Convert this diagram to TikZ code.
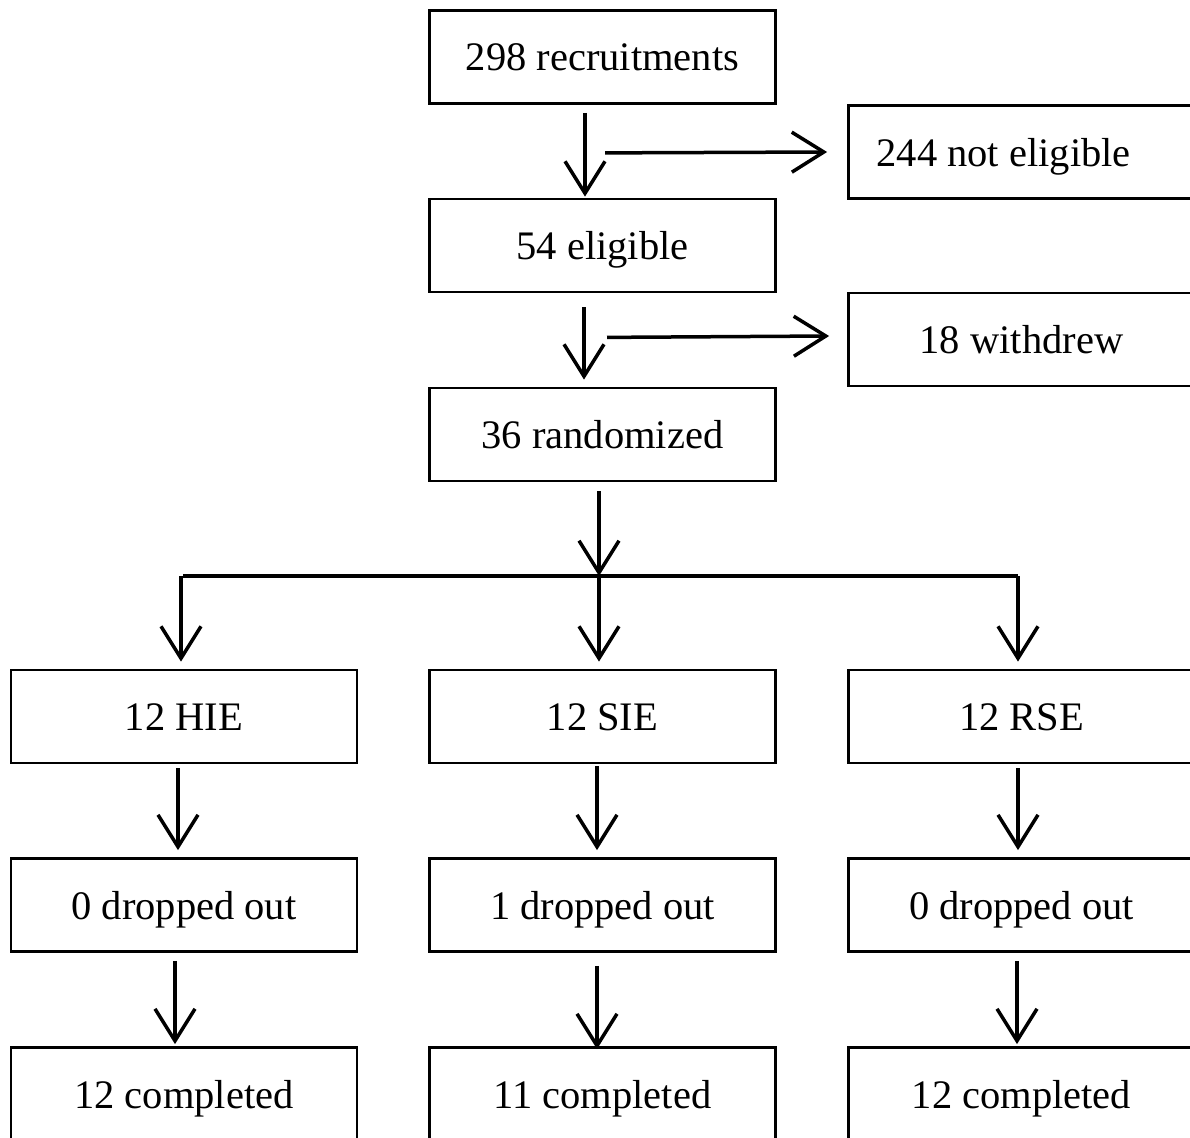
\documentclass[tikz,border=0pt]{standalone}
\usepackage{fontspec}
\setmainfont{Liberation Serif}
\usetikzlibrary{arrows.meta,calc}
\begin{document}
\begin{tikzpicture}[x=1pt,y=-1pt,
  box/.style={draw, line width=2.8pt, minimum width=346pt, minimum height=93pt, inner sep=0pt,
    text height=31pt, text depth=3pt,
    font=\fontsize{40.5}{48}\selectfont},
  arr/.style={line width=3.5pt, -{Straight Barb[length=32pt,width=40pt]}},
  ln/.style={line width=3.2pt}]
\useasboundingbox (0,0) rectangle (1190,1137);
\clip (0,0) rectangle (1190,1137);
\fill[white] (0,0) rectangle (1190,1137);
\node[box] (rec) at (602.5,57) {298 recruitments};
\node[box] (ne) at (1021.5,152) {\makebox[290pt][l]{244 not eligible}};
\node[box] (elig) at (602.5,245.5) {54 eligible};
\node[box] (wd) at (1021.5,339.5) {18 withdrew};
\node[box] (rand) at (602.5,434.5) {36 randomized};
\node[box] (hie) at (184,716.5) {12 HIE};
\node[box] (sie) at (602.5,716.5) {12 SIE};
\node[box] (rse) at (1021.5,716.5) {12 RSE};
\node[box] (d1) at (184,905) {0 dropped out};
\node[box] (d2) at (602.5,905) {1 dropped out};
\node[box] (d3) at (1021.5,905) {0 dropped out};
\node[box] (c1) at (184,1094) {12 completed};
\node[box] (c2) at (602.5,1094) {11 completed};
\node[box] (c3) at (1021.5,1094) {12 completed};
% top arrows
\draw[arr] ($(rec.south)+(-17.5,8)$) -- ($(elig.north)+(-17.5,-1)$);
\draw[arr] ($(rec.south)+(2.5,48)$) -- ($(ne.west)+(-20,0)$);
\draw[arr] ($(elig.south)+(-18.5,14)$) -- ($(rand.north)+(-18.5,-7)$);
\draw[arr] ($(elig.south)+(4.5,44)$) -- ($(wd.west)+(-18,-3.5)$);
% randomization split
\coordinate (split) at (599,576);
\draw[arr] ($(rand.south)+(-3.5,9)$) -- (split);
\draw[ln] (183,576) -- (1018,576);
\draw[arr] (split) -- ($(sie.north)+(-3.5,-7)$);
\draw[arr] (181,576) -- ($(hie.north)+(-3,-7)$);
\draw[arr] (1018,576) -- ($(rse.north)+(-3.5,-7)$);
% to dropped out
\draw[arr] ($(hie.south)+(-6,4)$) -- ($(d1.north)+(-6,-7)$);
\draw[arr] ($(sie.south)+(-5.5,2)$) -- ($(d2.north)+(-5.5,-7)$);
\draw[arr] ($(rse.south)+(-3.5,4)$) -- ($(d3.north)+(-3.5,-7)$);
% to completed
\draw[arr] ($(d1.south)+(-9,8)$) -- ($(c1.north)+(-9,-2)$);
\draw[arr] ($(d2.south)+(-5.5,13)$) -- ($(c2.north)+(-5.5,3)$);
\draw[arr] ($(d3.south)+(-4.5,8)$) -- ($(c3.north)+(-4.5,-2)$);
\end{tikzpicture}
\end{document}
